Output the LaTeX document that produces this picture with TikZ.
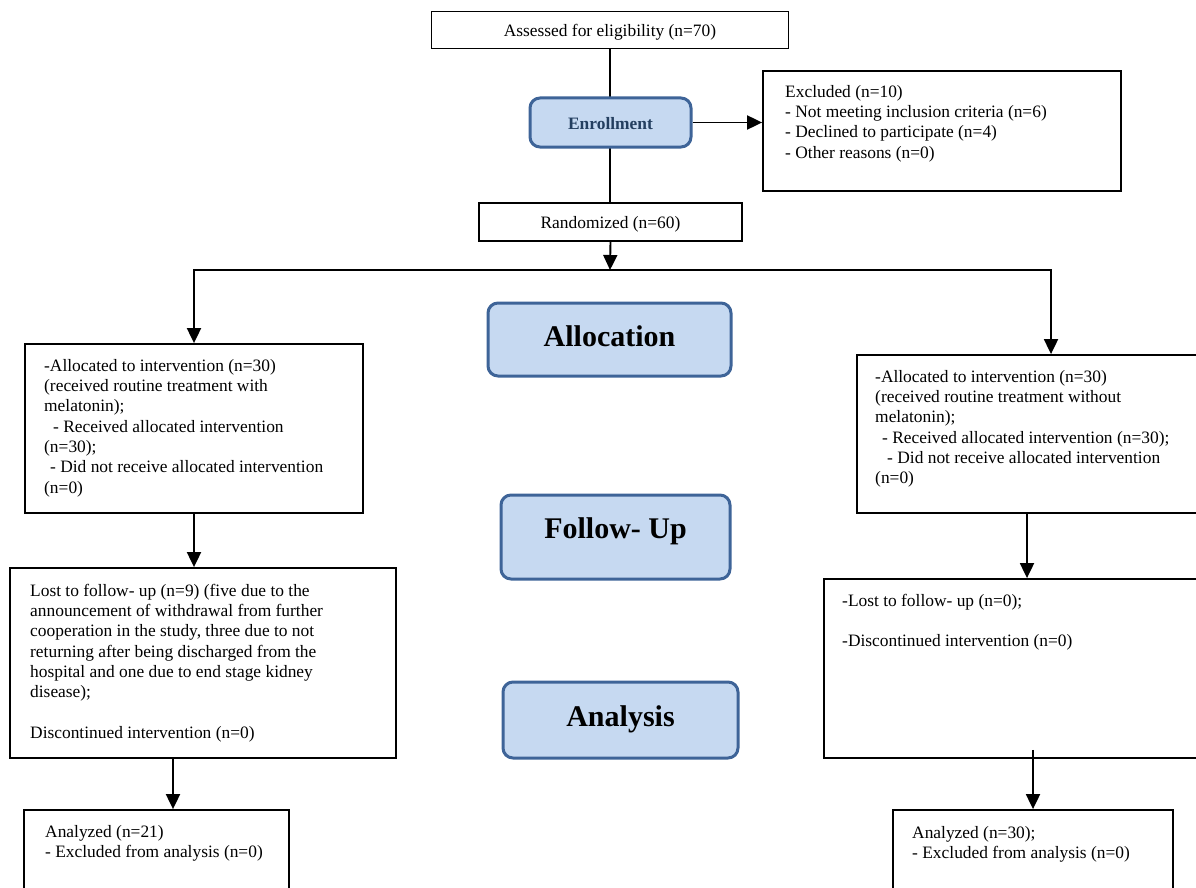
\documentclass[tikz,border=0pt]{standalone}
\usepackage{fontspec}
\setmainfont{Liberation Serif}
\usetikzlibrary{positioning}
\usetikzlibrary{arrows.meta}
\usepackage{xcolor}

\definecolor{phasefill}{HTML}{C6D9F1}
\definecolor{phaseline}{HTML}{3E6498}
\definecolor{enrollink}{HTML}{243F60}

% first line of a text block always 13pt high
\newcommand{\topstrut}{\rule{0pt}{13pt}}

\tikzset{
  box/.style={draw, line width=1.8pt, rectangle, inner sep=0pt, text depth=0pt,
    font=\fontsize{17.4}{20.3}\selectfont},
  phase/.style={draw=phaseline, fill=phasefill, line width=3pt, rounded corners=10pt,
    inner sep=0pt, text height=13pt, text depth=0pt, font=\bfseries\fontsize{30}{34}\selectfont},
  txt/.style={anchor=north west, align=left, inner sep=0pt, font=\fontsize{17.4}{20.3}\selectfont},
  flow/.style={line width=1.9pt, -{Triangle[length=15pt, width=14pt]}},
  link/.style={line width=1.9pt},
}

\begin{document}
\begin{tikzpicture}[x=1pt, y=-1pt]
  \useasboundingbox (0,0) rectangle (1196,888);
  \clip (0,0) rectangle (1196,888);

  % Enrollment
  \node[box, minimum width=357pt, minimum height=37pt] (assessed) at (610,30) {Assessed for eligibility (n=70)};
  \node[box, minimum width=263pt, minimum height=38pt] (randomized) at (610.5,222) {Randomized (n=60)};
  \draw[link] (assessed.south) -- (assessed.south |- randomized.north);
  \node[phase, minimum width=161pt, minimum height=49pt, text=enrollink,
    font=\bfseries\fontsize{17.4}{20}\selectfont] (enroll) at (610.5,122.5) {Enrollment};

  \node[box, minimum width=358pt, minimum height=120pt] (excluded) at (942,131) {};
  \node[txt] (excluded-txt) at (785,84) {\topstrut Excluded (n=10)\\
    - Not meeting inclusion criteria (n=6)\\
    - Declined to participate (n=4)\\
    - Other reasons (n=0)};
  \draw[flow] (enroll.east) -- (enroll.east -| excluded.west);

  % Phase labels
  \node[phase, minimum width=243pt, minimum height=73pt] (allocation) at (609.5,339.5) {Allocation};
  \node[phase, minimum width=229pt, minimum height=84pt, text depth=10pt] (followup) at (615.5,537) {Follow- Up};
  \node[phase, minimum width=235pt, minimum height=76pt] (analysis) at (620.5,720) {Analysis};

  % Allocation boxes
  \node[box, minimum width=338pt, minimum height=169pt] (alloc-l) at (194,428.5) {};
  \node[txt] (alloc-l-txt) at (44,358) {\topstrut -Allocated to intervention (n=30)\\
    (received routine treatment with\\
    melatonin);\\
    \hspace*{9pt}- Received allocated intervention\\
    (n=30);\\
    \hspace*{6pt}- Did not receive allocated intervention\\
    (n=0)};
  \node[box, minimum width=388pt, minimum height=158pt] (alloc-r) at (1051,434) {};
  \node[txt] (alloc-r-txt) at (875,369) {\topstrut -Allocated to intervention (n=30)\\
    (received routine treatment without\\
    melatonin);\\
    \hspace*{7pt}- Received allocated intervention (n=30);\\
    \hspace*{12pt}- Did not receive allocated intervention\\
    (n=0)};

  \coordinate (fork) at (610,270);
  \draw[flow] (randomized.south) -- (fork);
  \draw[flow] (fork) -| (alloc-l.north);
  \draw[flow] (fork) -| (alloc-r.north);

  % Follow-up boxes
  \node[box, minimum width=386pt, minimum height=190pt] (lost-l) at (203,663) {};
  \node[txt] (lost-l-txt) at (30,583) {\topstrut Lost to follow- up (n=9) (five due to the\\
    announcement of withdrawal from further\\
    cooperation in the study, three due to not\\
    returning after being discharged from the\\
    hospital and one due to end stage kidney\\
    disease);\\[20.3pt]
    Discontinued intervention (n=0)};
  \node[box, minimum width=406pt, minimum height=179pt] (lost-r) at (1027,668.5) {};
  \node[txt] (lost-r-txt) at (842,593) {\topstrut -Lost to follow- up (n=0);\\[20.3pt]
    -Discontinued intervention (n=0)};

  \draw[flow] (alloc-l.south) -- (alloc-l.south |- lost-l.north);
  \draw[flow] (lost-r.north |- alloc-r.south) -- (lost-r.north);

  % Analysis boxes
  \node[box, minimum width=265pt, minimum height=90pt] (an-l) at (156.5,855) {};
  \node[txt] (an-l-txt) at (45,824) {\topstrut Analyzed (n=21)\\
    - Excluded from analysis (n=0)};
  \node[box, minimum width=280pt, minimum height=90pt] (an-r) at (1033,855) {};
  \node[txt] (an-r-txt) at (912,825) {\topstrut Analyzed (n=30);\\
    - Excluded from analysis (n=0)};

  \draw[flow] ([xshift=-30pt]lost-l.south) -- ([xshift=-30pt]lost-l.south |- an-l.north);
  \draw[flow] ([yshift=9pt]an-r.north |- lost-r.south) -- (an-r.north);
\end{tikzpicture}
\end{document}
